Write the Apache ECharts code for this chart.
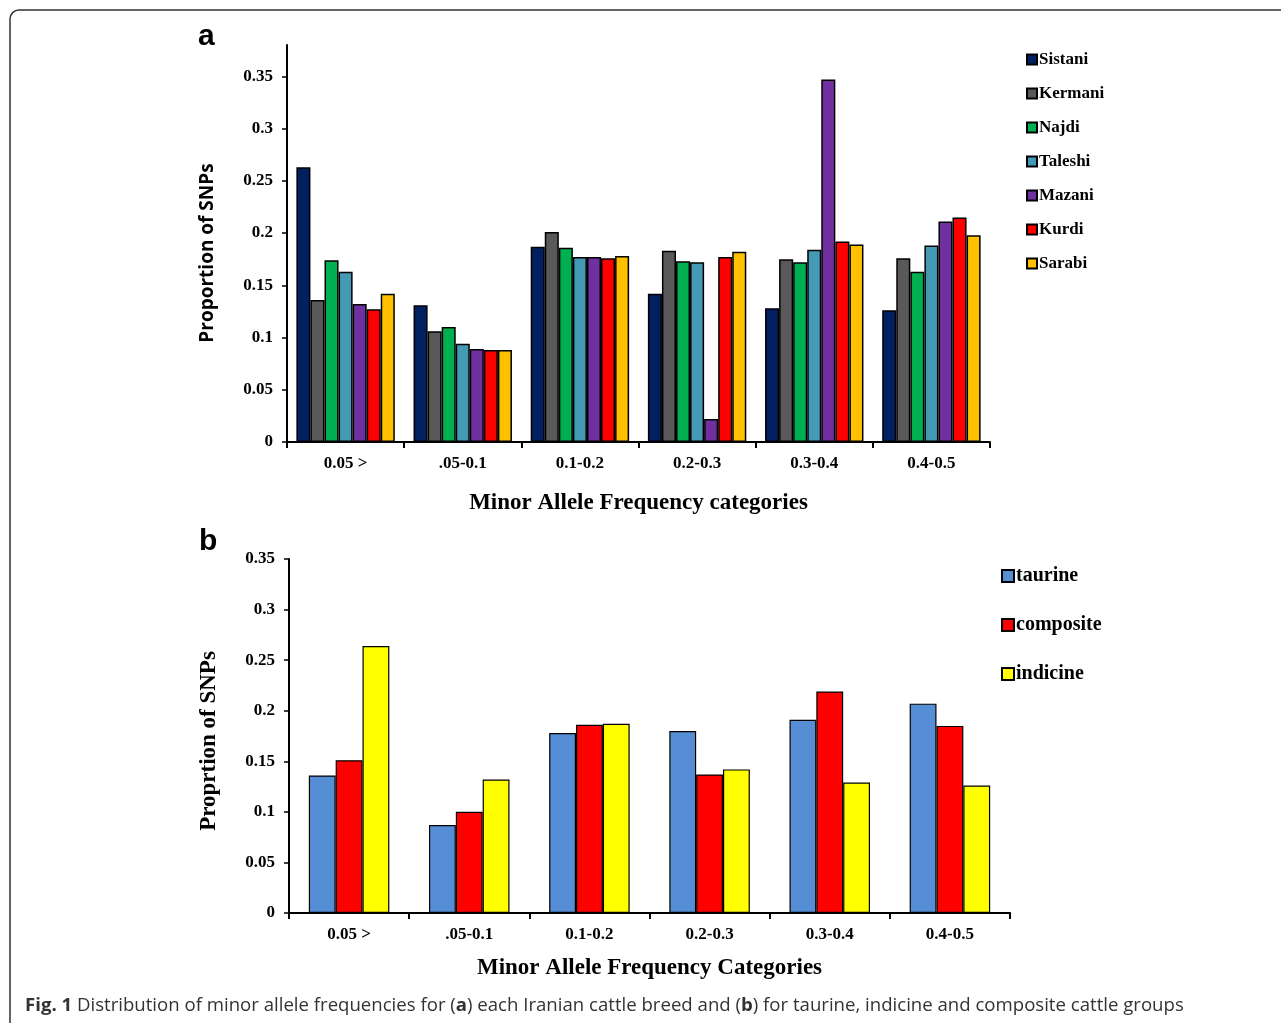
<!DOCTYPE html>
<html>
<head>
<meta charset="utf-8">
<script src="https://cdn.jsdelivr.net/npm/echarts@6/dist/echarts.min.js"></script>
<style>
  html, body { margin: 0; padding: 0; background: #fff; }
  #main { width: 1281px; height: 1023px; }
</style>
</head>
<body>
<div id="main"></div>
<script>
// MAF categories (shared by both panels)
var categories = ['0.05 >', '.05-0.1', '0.1-0.2', '0.2-0.3', '0.3-0.4', '0.4-0.5'];

// panel a - breeds
var breeds = ['Sistani', 'Kermani', 'Najdi', 'Taleshi', 'Mazani', 'Kurdi', 'Sarabi'];
var breedColors = ['#002060', '#595959', '#00b050', '#4499b4', '#7030a0', '#ff0000', '#ffc000'];
var sistani = [0.263, 0.131, 0.187, 0.142, 0.128, 0.126];
var kermani = [0.136, 0.106, 0.201, 0.183, 0.175, 0.176];
var najdi   = [0.174, 0.110, 0.186, 0.173, 0.172, 0.163];
var taleshi = [0.163, 0.094, 0.177, 0.172, 0.184, 0.188];
var mazani  = [0.132, 0.089, 0.177, 0.022, 0.347, 0.211];
var kurdi   = [0.127, 0.088, 0.176, 0.177, 0.192, 0.215];
var sarabi  = [0.142, 0.088, 0.178, 0.182, 0.189, 0.198];
var breedValues = [sistani, kermani, najdi, taleshi, mazani, kurdi, sarabi];

// panel b - cattle groups
var groups = ['taurine', 'composite', 'indicine'];
var groupColors = ['#558ed5', '#ff0000', '#ffff00'];
var taurine   = [0.136, 0.087, 0.178, 0.180, 0.191, 0.207];
var composite = [0.151, 0.100, 0.186, 0.137, 0.219, 0.185];
var indicine  = [0.264, 0.132, 0.187, 0.142, 0.129, 0.126];
var groupValues = [taurine, composite, indicine];

var yTicks = [0, 0.05, 0.1, 0.15, 0.2, 0.25, 0.3, 0.35];

var serif = '"Liberation Serif", "Times New Roman", serif';
var sans = '"Open Sans", "Noto Sans", sans-serif';

var chart = echarts.init(document.getElementById('main'));

function catAxis(gridIndex, name, nameGap) {
  return {
    type: 'category',
    gridIndex: gridIndex,
    data: categories,
    name: name,
    nameLocation: 'middle',
    nameGap: nameGap,
    nameTextStyle: { fontFamily: serif, fontWeight: 'bold', fontSize: 23, color: '#000' },
    axisLine: { lineStyle: { color: '#000', width: 2 } },
    axisTick: { show: true, length: 6, lineStyle: { color: '#000', width: 2 } },
    axisLabel: { fontFamily: serif, fontWeight: 'bold', fontSize: 17, color: '#000', margin: 13 },
    splitLine: { show: false }
  };
}

function valAxis(gridIndex, max, name, nameFont, nameSize, nameGap, shift) {
  return {
    type: 'value',
    gridIndex: gridIndex,
    min: 0,
    max: max,
    interval: 0.05,
    name: name,
    nameLocation: 'middle',
    nameGap: nameGap,
    nameTextStyle: { fontFamily: nameFont, fontWeight: 'bold', fontSize: nameSize, color: '#000', padding: [0, shift, 0, 0] },
    axisLine: { show: true, lineStyle: { color: '#000', width: 2 } },
    axisTick: { show: true, length: 5, customValues: yTicks, lineStyle: { color: '#000', width: 1.5 } },
    axisLabel: { fontFamily: serif, fontWeight: 'bold', fontSize: 17, color: '#000', margin: 14, customValues: yTicks },
    splitLine: { show: false }
  };
}

var series = [];
breeds.forEach(function (b, i) {
  series.push({
    name: b,
    type: 'bar',
    xAxisIndex: 0,
    yAxisIndex: 0,
    data: breedValues[i],
    barGap: '0%',
    barCategoryGap: '16%',
    itemStyle: { color: breedColors[i], borderColor: '#000', borderWidth: 1.5 }
  });
});
groups.forEach(function (g, i) {
  series.push({
    name: g,
    type: 'bar',
    xAxisIndex: 1,
    yAxisIndex: 1,
    data: groupValues[i],
    barGap: '0%',
    barCategoryGap: '33%',
    itemStyle: { color: groupColors[i], borderColor: '#000', borderWidth: 1.2 }
  });
});

var option = {
  animation: false,
  backgroundColor: '#fff',
  grid: [
    { left: 287, top: 45, width: 703, height: 397 },
    { left: 289, top: 559, width: 721, height: 354 }
  ],
  xAxis: [
    catAxis(0, 'Minor Allele Frequency categories', 50),
    catAxis(1, 'Minor Allele Frequency Categories', 44)
  ],
  yAxis: [
    valAxis(0, 0.38, 'Proportion of SNPs', sans, 19, 70, 19),
    valAxis(1, 0.35, 'Proprtion of SNPs', serif, 23, 68, 10)
  ],
  legend: [
    {
      data: breeds,
      orient: 'vertical',
      left: 1021,
      top: 46,
      itemWidth: 10,
      itemHeight: 10,
      itemGap: 17,
      icon: 'rect',
      textStyle: { fontFamily: serif, fontWeight: 'bold', fontSize: 17, color: '#000', lineHeight: 17, padding: [0, 0, 0, -3] }
    },
    {
      data: groups,
      orient: 'vertical',
      left: 996,
      top: 561,
      itemWidth: 12,
      itemHeight: 12,
      itemGap: 29,
      icon: 'rect',
      textStyle: { fontFamily: serif, fontWeight: 'bold', fontSize: 20, color: '#000', lineHeight: 20, padding: [0, 0, 0, -3] }
    }
  ],
  graphic: [
    {
      type: 'rect',
      shape: { x: 10, y: 10, width: 1400, height: 1200, r: 9 },
      style: { fill: 'none', stroke: '#333', lineWidth: 1.5 },
      silent: true
    },
    {
      type: 'text',
      left: 198, top: 22,
      style: { text: 'a', font: 'bold 30px "Liberation Sans", Arial, sans-serif', fill: '#000' }
    },
    {
      type: 'text',
      left: 199, top: 527,
      style: { text: 'b', font: 'bold 30px "Liberation Sans", Arial, sans-serif', fill: '#000' }
    },
    {
      type: 'text',
      left: 25, top: 996,
      style: {
        text: '{b|Fig. 1} Distribution of minor allele frequencies for ({b|a}) each Iranian cattle breed and ({b|b}) for taurine, indicine and composite cattle groups',
        fontFamily: sans,
        fontSize: 18.6,
        fill: '#333',
        rich: {
          b: { fontFamily: sans, fontSize: 18.6, fontWeight: 'bold', fill: '#333' }
        }
      }
    }
  ],
  series: series
};

chart.setOption(option);
</script>
</body>
</html>
